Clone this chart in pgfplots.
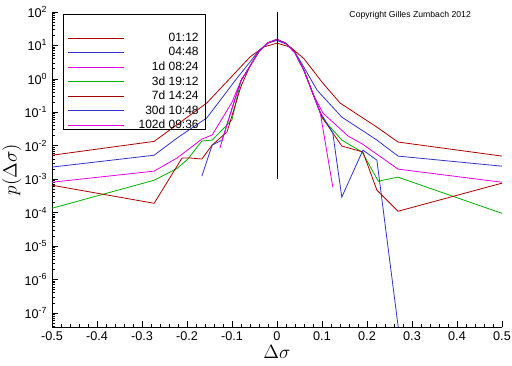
\documentclass[border=0pt]{standalone}
\usepackage{fontspec}
\setmainfont{Liberation Sans}
\usepackage{pgfplots}
\pgfplotsset{compat=1.18}
\definecolor{cRed}{RGB}{170,0,0}
\definecolor{cBlue}{RGB}{50,50,200}
\definecolor{cMag}{RGB}{225,0,225}
\definecolor{cGreen}{RGB}{0,175,0}
\begin{document}
\begin{tikzpicture}
\begin{axis}[
  at={(0,0)}, anchor=south west,
  scale only axis, width=337.5pt, height=236.25pt,
  ymode=log, log basis y=10,
  xmin=-0.5, xmax=0.5, ymin=3.8e-8, ymax=100,
  axis lines=left, axis line style={-, black, line width=0.6pt},
  tick align=inside, tick style={black, line width=0.5pt},
  major tick length=4.5pt, minor tick length=2.3pt,
  xtick={-0.5,-0.4,-0.3,-0.2,-0.1,0,0.1,0.2,0.3,0.4,0.5},
  xticklabels={-0.5,-0.4,-0.3,-0.2,-0.1,0,0.1,0.2,0.3,0.4,0.5},
  minor x tick num=4,
  ytick={1e-7,1e-6,1e-5,1e-4,1e-3,1e-2,1e-1,1,10,100},
  yticklabels={10\textsuperscript{-7},10\textsuperscript{-6},10\textsuperscript{-5},10\textsuperscript{-4},10\textsuperscript{-3},10\textsuperscript{-2},10\textsuperscript{-1},10\textsuperscript{0},10\textsuperscript{1},10\textsuperscript{2}},
  minor ytick={4e-8,5e-8,6e-8,7e-8,8e-8,9e-8,
    2e-7,3e-7,4e-7,5e-7,6e-7,7e-7,8e-7,9e-7,
    2e-6,3e-6,4e-6,5e-6,6e-6,7e-6,8e-6,9e-6,
    2e-5,3e-5,4e-5,5e-5,6e-5,7e-5,8e-5,9e-5,
    2e-4,3e-4,4e-4,5e-4,6e-4,7e-4,8e-4,9e-4,
    2e-3,3e-3,4e-3,5e-3,6e-3,7e-3,8e-3,9e-3,
    2e-2,3e-2,4e-2,5e-2,6e-2,7e-2,8e-2,9e-2,
    0.2,0.3,0.4,0.5,0.6,0.7,0.8,0.9,
    2,3,4,5,6,7,8,9,20,30,40,50,60,70,80,90},
  ticklabel style={font=\fontsize{9.5}{10}\selectfont},
  xlabel={$\Delta\sigma$}, ylabel={$p(\Delta\sigma)$},
  xlabel style={at={(axis description cs:0.5,-0.08)}, anchor=center, font=\fontsize{14}{14}\selectfont},
  ylabel style={at={(axis description cs:-0.089,0.5)}, anchor=center, font=\fontsize{15.5}{15.5}\selectfont},
  legend style={at={(axis description cs:0.027,0.946)}, anchor=north west,
    draw=none, fill=none, inner xsep=2pt, inner ysep=1pt,
    font=\fontsize{9}{10}\selectfont, row sep=-1.1pt},
  legend cell align=right,
  legend image code/.code={\path (0pt,-3.3pt) -- (0pt,-3.3pt); \draw[#1, draw=., line width=0.7pt] (0pt,0pt) -- (42pt,0pt);},
  every axis plot/.append style={line width=0.6pt},
  clip=true,
]
% 01:12
\addplot[cRed] coordinates {(-0.5,5.2e-3) (-0.273,1.35e-2) (-0.156,0.19) (-0.1,1.2) (-0.06,4.5) (-0.03,8.9) (0,11.7) (0.03,8.9) (0.06,4.0) (0.1,0.8) (0.14,0.19) (0.222,0.036) (0.269,0.0129) (0.5,0.0049)};
\addlegendentry{\makebox[54pt][r]{01:12}}
% 04:48
\addplot[cBlue] coordinates {(-0.5,2.3e-3) (-0.273,5.2e-3) (-0.222,0.017) (-0.156,0.068) (-0.09,1.0) (-0.06,3.2) (-0.04,7.1) (-0.02,11.7) (0,14.1) (0.02,11) (0.04,6.3) (0.06,2.2) (0.089,0.46) (0.144,0.072) (0.222,0.0148) (0.269,4.9e-3) (0.5,2.45e-3)};
\addlegendentry{\makebox[54pt][r]{04:48}}
% 1d 08:24
\addplot[cMag] coordinates {(-0.5,8.1e-4) (-0.273,1.74e-3) (-0.222,4.3e-3) (-0.167,0.0158) (-0.144,0.021) (-0.1,0.2) (-0.08,0.89) (-0.06,2.4) (-0.04,6.6) (-0.02,12) (0,15.1) (0.02,11.5) (0.04,6.0) (0.06,1.78) (0.08,0.355) (0.102,0.095) (0.158,0.0195) (0.19,0.0112) (0.269,2.0e-3) (0.5,8.1e-4)};
\addlegendentry{\makebox[54pt][r]{1d 08:24}}
% 3d 19:12
\addplot[cGreen] coordinates {(-0.5,1.35e-4) (-0.273,9.3e-4) (-0.222,2.1e-3) (-0.198,4.0e-3) (-0.167,0.0138) (-0.144,0.0148) (-0.1,0.06) (-0.08,0.89) (-0.06,2.4) (-0.04,6.6) (-0.02,12) (0,15.1) (0.02,11.5) (0.04,6.0) (0.06,1.78) (0.08,0.355) (0.1,0.068) (0.144,0.0148) (0.189,6.5e-3) (0.225,8.7e-4) (0.269,1.15e-3) (0.5,9.5e-5)};
\addlegendentry{\makebox[54pt][r]{3d 19:12}}
% 7d 14:24
\addplot[cRed] coordinates {(-0.5,6.6e-4) (-0.273,1.9e-4) (-0.211,4.3e-3) (-0.193,4.3e-3) (-0.167,4.0e-3) (-0.144,0.0105) (-0.111,0.026) (-0.08,0.6) (-0.06,2.4) (-0.04,6.6) (-0.02,12) (0,15.1) (0.02,11.5) (0.04,6.0) (0.06,1.78) (0.08,0.355) (0.1,0.072) (0.144,9.8e-3) (0.191,6.5e-3) (0.222,4.7e-4) (0.269,1.1e-4) (0.5,7.6e-4)};
\addlegendentry{\makebox[54pt][r]{7d 14:24}}
% 30d 10:48
\addplot[cBlue] coordinates {(-0.167,1.23e-3) (-0.144,0.0105) (-0.122,0.0148) (-0.1,0.13) (-0.08,0.89) (-0.06,2.4) (-0.04,6.6) (-0.02,12) (0,15.1) (0.02,11.5) (0.04,6.0) (0.06,1.78) (0.08,0.355) (0.096,0.1) (0.124,0.024) (0.144,2.9e-4) (0.191,7.4e-3) (0.222,3.7e-3) (0.272,2e-8)};
\addlegendentry{\makebox[54pt][r]{30d 10:48}}
% 102d 09:36
\addplot[cMag] coordinates {(-0.127,8.5e-3) (-0.1,0.13) (-0.08,0.89) (-0.06,2.4) (-0.04,6.6) (-0.02,12) (0,15.1) (0.02,11.5) (0.04,6.0) (0.06,1.78) (0.08,0.355) (0.096,0.1) (0.124,5.8e-4)};
\addlegendentry{\makebox[54pt][r]{102d 09:36}}
% vertical line
\addplot[black, forget plot] coordinates {(0,1e-3) (0,100)};
\draw[black, line width=0.6pt] (axis description cs:0.0244,0.9937) rectangle (axis description cs:0.342,0.6286);
\node[font=\fontsize{6.5}{7}\selectfont, anchor=center] at (rel axis cs:0.796,0.99) {Copyright Gilles Zumbach 2012};
\end{axis}
\pgfresetboundingbox
\path (-39pt,-29.25pt) rectangle (345pt,245.25pt);
\end{tikzpicture}
\end{document}
